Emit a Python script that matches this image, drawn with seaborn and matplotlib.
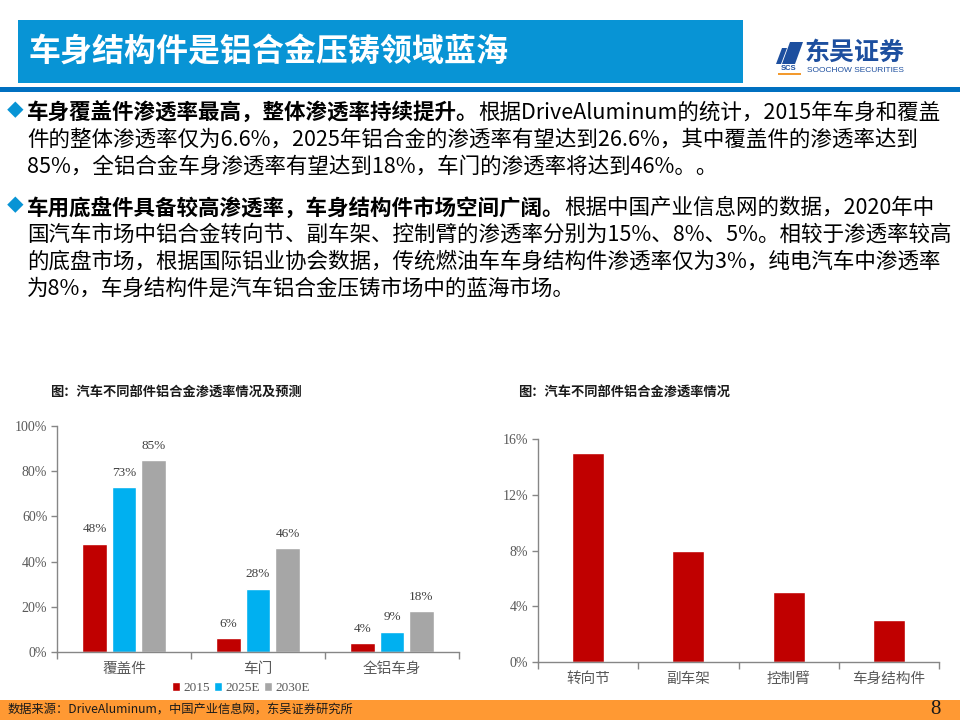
import matplotlib
matplotlib.use("Agg")
import matplotlib.pyplot as plt
import seaborn as sns
import pandas as pd
import numpy as np
from matplotlib.patches import Rectangle, Polygon
from matplotlib.ticker import FuncFormatter

# ---------------- data ----------------
page_title = "车身结构件是铝合金压铸领域蓝海"
parts_left = ["覆盖件", "车门", "全铝车身"]
years = ["2015", "2025E", "2030E"]
rate_2015 = [48, 6, 4]
rate_2025E = [73, 28, 9]
rate_2030E = [85, 46, 18]
left_yticks = [0, 20, 40, 60, 80, 100]

parts_right = ["转向节", "副车架", "控制臂", "车身结构件"]
rate_right = [15, 8, 5, 3]
right_yticks = [0, 4, 8, 12, 16]

title_left = "图：汽车不同部件铝合金渗透率情况及预测"
title_right = "图：汽车不同部件铝合金渗透率情况"
source_text = "数据来源：DriveAluminum，中国产业信息网，东吴证券研究所"
page_no = "8"

para1 = [
    [("车身覆盖件渗透率最高，整体渗透率持续提升。", True), ("根据DriveAluminum的统计，2015年车身和覆盖", False)],
    [("件的整体渗透率仅为6.6%，2025年铝合金的渗透率有望达到26.6%，其中覆盖件的渗透率达到", False)],
    [("85%，全铝合金车身渗透率有望达到18%，车门的渗透率将达到46%。。", False)],
]
para2 = [
    [("车用底盘件具备较高渗透率，车身结构件市场空间广阔。", True), ("根据中国产业信息网的数据，2020年中", False)],
    [("国汽车市场中铝合金转向节、副车架、控制臂的渗透率分别为15%、8%、5%。相较于渗透率较高", False)],
    [("的底盘市场，根据国际铝业协会数据，传统燃油车车身结构件渗透率仅为3%，纯电汽车中渗透率", False)],
    [("为8%，车身结构件是汽车铝合金压铸市场中的蓝海市场。", False)],
]

# ---------------- style ----------------
sns.set_theme(style="ticks")
CJK = ["Noto Sans CJK SC", "DejaVu Sans"]
SERIF = ["Liberation Serif", "Noto Sans CJK SC"]
plt.rcParams["font.family"] = CJK

W, H = 960, 720
fig = plt.figure(figsize=(W / 100, H / 100), dpi=100)


def fx(px):
    return px / W


def fy(py):
    return 1 - py / H


def rect(x0, y0, x1, y1, color):
    fig.patches.append(Rectangle((fx(x0), fy(y1)), fx(x1 - x0), (y1 - y0) / H,
                                 transform=fig.transFigure, color=color, lw=0, zorder=0))


# header
rect(18, 20, 743, 83, "#0894D5")
fig.text(fx(28), fy(52), page_title, color="white", fontsize=23, fontweight="bold",
         va="center", ha="left")
rect(0, 87, 960, 92, "#0070C0")

# logo
logo_blue = "#1D4F9F"
fig.patches.append(Polygon([(fx(782), fy(64)), (fx(790), fy(42)), (fx(803), fy(42)), (fx(795), fy(64))],
                           closed=True, transform=fig.transFigure, color=logo_blue, lw=0))
fig.patches.append(Polygon([(fx(776), fy(64)), (fx(782), fy(48)), (fx(787), fy(48)), (fx(781), fy(64))],
                           closed=True, transform=fig.transFigure, color=logo_blue, lw=0))
fig.text(fx(789), fy(69), "SCS", color=logo_blue, fontsize=5.5, fontweight="bold",
         ha="center", va="center", family=["Liberation Sans"])
rect(778, 73, 801, 75, "#F39A2E")
fig.text(fx(805), fy(53), "东吴证券", color=logo_blue, fontsize=18, fontweight="bold",
         va="center", ha="left")
fig.text(fx(807), fy(70), "SOOCHOW SECURITIES", color=logo_blue, fontsize=6,
         va="center", ha="left", family=["Liberation Sans"])

# paragraphs
renderer = fig.canvas.get_renderer()


def rich_line(x, y, segs, size=15.5):
    for txt, bold in segs:
        t = fig.text(fx(x), fy(y), txt, fontsize=size, fontweight="bold" if bold else "normal",
                     va="center", ha="left", color="black")
        bb = t.get_window_extent(renderer)
        x = bb.x1


for i, line in enumerate(para1):
    rich_line(27, 113 + 27 * i, line)
fig.text(fx(7), fy(112), "◆", color="#0894D5", fontsize=12, va="center", ha="left")
for i, line in enumerate(para2):
    rich_line(27, 208 + 27 * i, line)
fig.text(fx(7), fy(207), "◆", color="#0894D5", fontsize=12, va="center", ha="left")

# footer
rect(0, 700, 960, 720, "#FF9933")
fig.text(fx(8), fy(710), source_text, fontsize=8.8, va="center", ha="left", color="#1a1a1a")
fig.text(fx(930), fy(709), page_no, fontsize=15, va="center", ha="left", family=SERIF, color="#1a1a1a")

# chart titles
fig.text(fx(50), fy(393), title_left, fontsize=9.5, fontweight="bold", va="center", ha="left", color="#1a1a1a")
fig.text(fx(518), fy(393), title_right, fontsize=9.5, fontweight="bold", va="center", ha="left", color="#1a1a1a")

axis_gray = "#868686"
label_gray = "#595959"


def style_axes(ax, ncat, yticks):
    ax.set_xlim(-0.5, ncat - 0.5)
    ax.set_ylim(yticks[0], yticks[-1])
    ax.set_yticks(yticks)
    ax.yaxis.set_major_formatter(FuncFormatter(lambda v, p: f"{v:.0f}%"))
    ax.set_xticks(np.arange(-0.5, ncat, 1.0), minor=True)
    ax.tick_params(axis="x", which="major", length=0, pad=7, labelsize=10.5,
                   labelcolor=label_gray)
    ax.tick_params(axis="x", which="minor", length=5, width=1, color=axis_gray, direction="out")
    ax.tick_params(axis="y", which="major", length=4, width=1, color=axis_gray, direction="out",
                   labelsize=10, labelcolor=label_gray, labelfontfamily="Liberation Serif", pad=3)
    for s in ["top", "right"]:
        ax.spines[s].set_visible(False)
    for s in ["left", "bottom"]:
        ax.spines[s].set_color(axis_gray)
        ax.spines[s].set_linewidth(1)
    ax.set_xlabel("")
    ax.set_ylabel("")
    ax.set_facecolor("none")


# left chart
ax1 = fig.add_axes([fx(57), fy(652), fx(402), 226 / H])
df_left = pd.DataFrame({
    "part": parts_left * 3,
    "year": np.repeat(years, len(parts_left)),
    "rate": rate_2015 + rate_2025E + rate_2030E,
})
sns.barplot(data=df_left, x="part", y="rate", hue="year", hue_order=years,
            palette=["#C00000", "#00B0F0", "#A6A6A6"], width=0.66, gap=0.17,
            saturation=1, ax=ax1, errorbar=None)
style_axes(ax1, len(parts_left), left_yticks)
for cont in ax1.containers:
    ax1.bar_label(cont, labels=[f"{v:g}%" for v in cont.datavalues], padding=6,
                  fontsize=9.5, family=SERIF, color="#404040")
handles, labels = ax1.get_legend_handles_labels()
if ax1.legend_ is not None:
    ax1.legend_.remove()
ax1.legend(handles, labels, loc="center", bbox_to_anchor=(fx(241), fy(688)),
           bbox_transform=fig.transFigure, ncol=3, frameon=False,
           handlelength=0.6, handleheight=0.6, handletextpad=0.25, columnspacing=0.3,
           prop={"family": SERIF, "size": 9.5}, labelcolor=label_gray)

# right chart
ax2 = fig.add_axes([fx(538), fy(662), fx(401), 223 / H])
df_right = pd.DataFrame({"part": parts_right, "rate": rate_right})
sns.barplot(data=df_right, x="part", y="rate", color="#C00000", width=0.32,
            saturation=1, ax=ax2, errorbar=None)
style_axes(ax2, len(parts_right), right_yticks)

fig.savefig("out.png", dpi=100)
